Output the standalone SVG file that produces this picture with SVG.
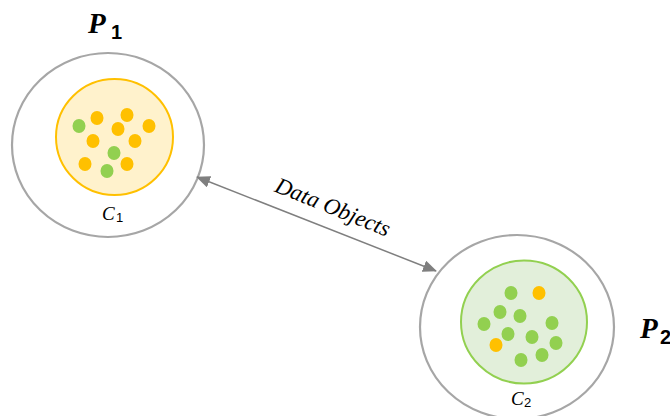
<svg xmlns="http://www.w3.org/2000/svg" width="670" height="416" viewBox="0 0 670 416">
  <defs>
    <style>
      .outer { fill: #ffffff; stroke: #a6a6a6; stroke-width: 2.2; }
      .c1 { fill: #fff2cc; stroke: #ffc000; stroke-width: 2; }
      .c2 { fill: #e2efda; stroke: #92d050; stroke-width: 2; }
      .o { fill: #ffc000; }
      .g { fill: #92d050; }
      .plabel { font-family: "Liberation Serif", serif; font-weight: bold; font-style: italic; font-size: 29px; fill: #000; }
      .psub { font-family: "Liberation Sans", sans-serif; font-weight: bold; font-size: 20px; fill: #000; }
      .clabel { font-family: "Liberation Serif", serif; font-style: italic; font-size: 19px; fill: #000; }
      .csub { font-family: "Liberation Sans", sans-serif; font-size: 13px; fill: #000; }
      .edge { stroke: #7f7f7f; stroke-width: 1.5; fill: none; }
      .elabel { font-family: "Liberation Serif", serif; font-style: italic; font-size: 23px; fill: #000; }
    </style>
    <marker id="arrow" viewBox="0 0 14 12" refX="13" refY="6" markerWidth="14" markerHeight="12" markerUnits="userSpaceOnUse" orient="auto-start-reverse">
      <path d="M0,0 L14,6 L0,12 z" fill="#7f7f7f"/>
    </marker>
  </defs>

  <!-- process P1 with its cluster C1 -->
  <g id="P1">
    <ellipse class="outer" cx="108" cy="145" rx="96" ry="92"/>
    <ellipse class="c1" cx="114.5" cy="137" rx="58.5" ry="58"/>
    <g>
      <ellipse class="g" cx="79" cy="126" rx="6.5" ry="7"/>
      <ellipse class="o" cx="97" cy="118" rx="6.5" ry="7"/>
      <ellipse class="o" cx="127" cy="115" rx="6.5" ry="7"/>
      <ellipse class="o" cx="118" cy="129" rx="6.5" ry="7"/>
      <ellipse class="o" cx="149" cy="126" rx="6.5" ry="7"/>
      <ellipse class="o" cx="93" cy="141" rx="6.5" ry="7"/>
      <ellipse class="o" cx="135" cy="141" rx="6.5" ry="7"/>
      <ellipse class="g" cx="114" cy="153" rx="6.5" ry="7"/>
      <ellipse class="o" cx="85" cy="164" rx="6.5" ry="7"/>
      <ellipse class="g" cx="107" cy="171" rx="6.5" ry="7"/>
      <ellipse class="o" cx="127" cy="164" rx="6.5" ry="7"/>
    </g>
    <text class="plabel" x="88" y="33">P</text>
    <text class="psub" x="111" y="39">1</text>
    <text class="clabel" x="102" y="220">C</text>
    <text class="csub" x="116" y="222">1</text>
  </g>

  <!-- process P2 with its cluster C2 -->
  <g id="P2">
    <ellipse class="outer" cx="517" cy="327" rx="97" ry="92"/>
    <ellipse class="c2" cx="524" cy="322" rx="63" ry="61.5"/>
    <g>
      <ellipse class="g" cx="511" cy="293" rx="6.5" ry="7"/>
      <ellipse class="o" cx="539" cy="293" rx="6.5" ry="7"/>
      <ellipse class="g" cx="500" cy="312" rx="6.5" ry="7"/>
      <ellipse class="g" cx="520" cy="316" rx="6.5" ry="7"/>
      <ellipse class="g" cx="484" cy="324" rx="6.5" ry="7"/>
      <ellipse class="g" cx="552" cy="323" rx="6.5" ry="7"/>
      <ellipse class="g" cx="508" cy="334" rx="6.5" ry="7"/>
      <ellipse class="g" cx="532" cy="337" rx="6.5" ry="7"/>
      <ellipse class="g" cx="556" cy="343" rx="6.5" ry="7"/>
      <ellipse class="o" cx="496" cy="345" rx="6.5" ry="7"/>
      <ellipse class="g" cx="521" cy="360" rx="6.5" ry="7"/>
      <ellipse class="g" cx="542" cy="355" rx="6.5" ry="7"/>
    </g>
    <text class="plabel" x="640" y="338">P</text>
    <text class="psub" x="660" y="344">2</text>
    <text class="clabel" x="511" y="405">C</text>
    <text class="csub" x="524" y="407">2</text>
  </g>

  <!-- data exchange between the two processes -->
  <g id="connectors">
    <line class="edge" x1="197" y1="177" x2="436" y2="271" marker-start="url(#arrow)" marker-end="url(#arrow)"/>
    <text class="elabel" transform="translate(330,214) rotate(22)" text-anchor="middle">Data Objects</text>
  </g>
</svg>
